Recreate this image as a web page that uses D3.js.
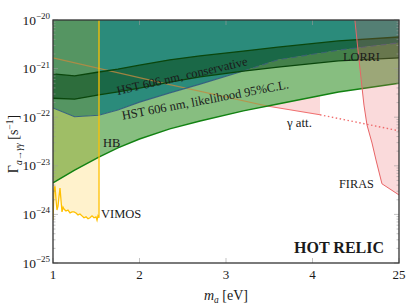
<!DOCTYPE html>
<html>
<head>
<meta charset="utf-8">
<title>Hot relic decay bounds</title>
<style>
  body { margin: 0; background: #fff; }
  text { font-family: "Liberation Serif", "DejaVu Serif", serif; fill: #1a1a1a; }
</style>
</head>
<body>
<div id="container"></div>
<script src="https://cdn.jsdelivr.net/npm/d3@7"></script>
<script>

// chart size
const width = 407;
const height = 308;
const plotLeft = 53, plotRight = 399, plotTop = 20, plotBottom = 263;

// axis ticks
const xTicks = [1, 2, 3, 4, 5];
const xTickLabels = ["1", "2", "3", "4", "25"];
const yDecades = [-25, -24, -23, -22, -21, -20];

// HST curves share one mass grid (eV), values are log10(Gamma / s^-1)
const hstMass = [1.0, 1.25, 1.53, 1.75, 2.0, 2.35, 2.7, 3.2, 3.6, 4.3, 5.0];
const consUpper = [-21.11, -21.15, -21.07, -21.01, -20.93, -20.82, -20.74, -20.64, -20.56, -20.43, -20.35];
const consLower = [-21.61, -21.63, -21.54, -21.48, -21.40, -21.28, -21.17, -21.05, -20.97, -20.84, -20.78];
const likeUpper = [-21.81, -21.99, -21.96, -21.85, -21.69, -21.50, -21.32, -21.05, -20.82, -20.62, -20.47];
const likeLower = [-23.35, -23.09, -22.82, -22.63, -22.45, -22.24, -22.08, -21.87, -21.73, -21.48, -21.30];

// photon attenuation bound
const gammaMass = [1.0, 2.35, 3.474, 4.087, 5.0];
const gammaLog = [-20.78, -21.33, -21.77, -21.95, -22.28];
const gammaSolidFrom = 3.474;
const gammaDottedFrom = 4.087;

// FIRAS boundary
const firasMass = [4.49, 4.526, 4.572, 4.595, 4.63, 4.688, 4.734, 4.803, 5.0];
const firasLog = [-20.0, -20.62, -21.38, -21.75, -22.16, -22.53, -22.88, -23.37, -23.6];

// VIMOS spectrum bound
const vimosMass = [1.0, 1.012, 1.023, 1.035, 1.046, 1.058, 1.069, 1.081, 1.092, 1.104, 1.116, 1.127,
  1.150, 1.173, 1.197, 1.220, 1.243, 1.266, 1.289, 1.312, 1.335, 1.358, 1.382, 1.405, 1.428,
  1.451, 1.474, 1.497, 1.509, 1.520, 1.532];
const vimosLog = [-24.12, -23.50, -23.42, -23.70, -23.91, -23.83, -23.64, -23.46, -23.70, -23.95, -23.85, -23.89,
  -23.93, -23.91, -23.97, -23.95, -23.95, -23.97, -24.01, -23.99, -24.03, -24.07, -24.05, -24.09, -24.07,
  -24.03, -24.07, -24.05, -24.12, -24.03, -24.07];

const x = d3.scaleLinear().domain([1, 5]).range([plotLeft, plotRight]);
const y = d3.scaleLog().domain([1e-25, 1e-20]).range([plotBottom, plotTop]);

const pts = (ms, ls) => ms.map((m, i) => [m, Math.pow(10, ls[i])]);
const line = d3.line().x(d => x(d[0])).y(d => y(d[1]));
const band = d3.area().x(d => x(d[0])).y0(d => y(d[1])).y1(d => y(d[2]));

const svg = d3.select("#container").append("svg")
  .attr("width", width).attr("height", height);

svg.append("clipPath").attr("id", "plot")
  .append("rect").attr("x", plotLeft).attr("y", plotTop)
  .attr("width", plotRight - plotLeft).attr("height", plotBottom - plotTop);

const g = svg.append("g").attr("clip-path", "url(#plot)");

// gamma attenuation excluded region (mostly hidden under the HST areas)
const gammaPts = pts(gammaMass, gammaLog);
const gammaFill = gammaPts.filter(d => d[0] <= gammaDottedFrom).map(d => [d[0], d[1], 1e-20]);
g.append("path").attr("d", band(gammaFill)).attr("fill", "#fbdada");

// HST likelihood: teal above, light green between curves
const topRow = hstMass.map((m, i) => [m, Math.pow(10, likeUpper[i]), 1e-20]);
g.append("path").attr("d", band(topRow)).attr("fill", "#2b8b7b");
const likeRow = hstMass.map((m, i) => [m, Math.pow(10, likeLower[i]), Math.pow(10, likeUpper[i])]);
g.append("path").attr("d", band(likeRow)).attr("fill", "#87be80");

// VIMOS excluded area
const vimosPts = pts(vimosMass, vimosLog);
const vimosArea = vimosPts.map(d => [d[0], d[1], 1e-20]);
g.append("path").attr("d", band(vimosArea))
  .attr("fill", "#ffc000").attr("fill-opacity", 0.2);

// conservative band
const consRow = hstMass.map((m, i) => [m, Math.pow(10, consLower[i]), Math.pow(10, consUpper[i])]);
g.append("path").attr("d", band(consRow))
  .attr("fill", "#0d4d1e").attr("fill-opacity", 0.55);

// gamma line, tinted where it runs under the HST areas
g.append("path").attr("d", line(gammaPts.filter(d => d[0] <= gammaSolidFrom)))
  .attr("fill", "none").attr("stroke", "#c08a40").attr("stroke-opacity", 0.8).attr("stroke-width", 1.1);
g.append("path").attr("d", line(gammaPts.filter(d => d[0] >= gammaSolidFrom && d[0] <= gammaDottedFrom)))
  .attr("fill", "none").attr("stroke", "#f07070").attr("stroke-width", 1.2);
g.append("path").attr("d", line(gammaPts.filter(d => d[0] >= gammaDottedFrom)))
  .attr("fill", "none").attr("stroke", "#f07070").attr("stroke-width", 1.4)
  .attr("stroke-dasharray", "1.5,2.5");

// HST lines
const likeUpperPts = pts(hstMass, likeUpper);
g.append("path").attr("d", line(likeUpperPts.filter(d => d[0] <= 3.2)))
  .attr("fill", "none").attr("stroke", "#35627f").attr("stroke-width", 1.1);
g.append("path").attr("d", line(likeUpperPts.filter(d => d[0] >= 3.2)))
  .attr("fill", "none").attr("stroke", "#3b6272").attr("stroke-width", 1.1)
  .attr("stroke-dasharray", "6,4");
g.append("path").attr("d", line(pts(hstMass, likeLower)))
  .attr("fill", "none").attr("stroke", "#128212").attr("stroke-width", 1.5);
[consUpper, consLower].forEach(c => {
  g.append("path").attr("d", line(pts(hstMass, c)))
    .attr("fill", "none").attr("stroke", "#0a460c").attr("stroke-width", 1.3);
});

// VIMOS line and its right edge
const vimosLast = vimosPts[vimosPts.length - 1];
g.append("path").attr("d", line(vimosPts.concat([[vimosLast[0], 1e-20]])))
  .attr("fill", "none").attr("stroke", "#ffc000").attr("stroke-width", 1.3);

// FIRAS
const firasPts = pts(firasMass, firasLog);
g.append("path").attr("d", line(firasPts.concat([[5, 1e-20]])) + "Z")
  .attr("fill", "#e8585a").attr("fill-opacity", 0.22).attr("stroke", "none");
g.append("path").attr("d", line(firasPts))
  .attr("fill", "none").attr("stroke", "#e86466").attr("stroke-width", 1);

// ticks
const tickColor = "#9a9a9a";
yDecades.forEach(n => {
  for (let k = 1; k < 10; k++) {
    const v = k * Math.pow(10, n);
    if (v > 1e-20 * 1.0001) break;
    const len = k === 1 ? 5 : 2.5;
    svg.append("line").attr("x1", plotLeft).attr("x2", plotLeft + len)
      .attr("y1", y(v)).attr("y2", y(v)).attr("stroke", tickColor).attr("stroke-width", 0.6);
    svg.append("line").attr("x1", plotRight).attr("x2", plotRight - len)
      .attr("y1", y(v)).attr("y2", y(v)).attr("stroke", tickColor).attr("stroke-width", 0.6);
  }
});
xTicks.forEach(t => {
  svg.append("line").attr("x1", x(t)).attr("x2", x(t)).attr("y1", plotBottom).attr("y2", plotBottom - 5)
    .attr("stroke", tickColor).attr("stroke-width", 0.6);
  svg.append("line").attr("x1", x(t)).attr("x2", x(t)).attr("y1", plotTop).attr("y2", plotTop + 5)
    .attr("stroke", tickColor).attr("stroke-width", 0.6);
});

// frame
svg.append("rect").attr("x", plotLeft).attr("y", plotTop)
  .attr("width", plotRight - plotLeft).attr("height", plotBottom - plotTop)
  .attr("fill", "none").attr("stroke", "#333").attr("stroke-width", 1.3);

// tick labels
xTicks.forEach((t, i) => {
  svg.append("text").attr("x", x(t)).attr("y", 279)
    .attr("text-anchor", "middle").style("font-size", "13px").text(xTickLabels[i]);
});
yDecades.forEach(n => {
  const tx = svg.append("text").attr("x", 50).attr("y", y(Math.pow(10, n)) + 4.5)
    .attr("text-anchor", "end").style("font-size", "13.5px");
  tx.append("tspan").text("10");
  tx.append("tspan").attr("dy", -5.5).style("font-size", "9px").text("\u2212" + (-n));
});

// axis titles
const xt = svg.append("text").attr("x", 226).attr("y", 300)
  .attr("text-anchor", "middle").style("font-size", "14px");
xt.append("tspan").style("font-style", "italic").text("m");
xt.append("tspan").attr("dy", 2.5).style("font-size", "9.5px").style("font-style", "italic").text("a");
xt.append("tspan").attr("dy", -2.5).text(" [eV]");

const yt = svg.append("text").attr("transform", "translate(18,144) rotate(-90)")
  .attr("text-anchor", "middle").style("font-size", "14px");
yt.append("tspan").text("\u0393");
yt.append("tspan").attr("dy", 3.5).style("font-size", "9.5px").style("font-style", "italic").text("a\u2192\u03b3\u03b3");
yt.append("tspan").attr("dy", -3.5).text(" [s");
yt.append("tspan").attr("dy", -5.5).style("font-size", "9.5px").text("\u22121");
yt.append("tspan").attr("dy", 5.5).text("]");

// in-plot labels
const label = (txt, px, py, opts = {}) => {
  const t = svg.append("text").attr("x", px).attr("y", py)
    .attr("text-anchor", opts.anchor || "start")
    .style("font-size", (opts.size || 12) + "px")
    .text(txt);
  if (opts.rotate) t.attr("transform", `rotate(${opts.rotate},${px},${py})`);
  if (opts.bold) t.style("font-weight", "bold");
  return t;
};
label("HST 606 nm, conservative", 183, 80, { anchor: "middle", rotate: -12.9, size: 12.5 });
label("HST 606 nm, likelihood 95%C.L.", 206, 104, { anchor: "middle", rotate: -10.7, size: 12.5 });
label("LORRI", 343, 61, { size: 12.3 });
label("\u03b3 att.", 287, 127, { size: 12.8 });
label("HB", 103, 147, { size: 12.5 });
label("VIMOS", 101, 218, { size: 12.5 });
label("FIRAS", 339, 188, { size: 12.3 });
label("HOT RELIC", 384, 253, { anchor: "end", size: 16, bold: true });

</script>
</body>
</html>
